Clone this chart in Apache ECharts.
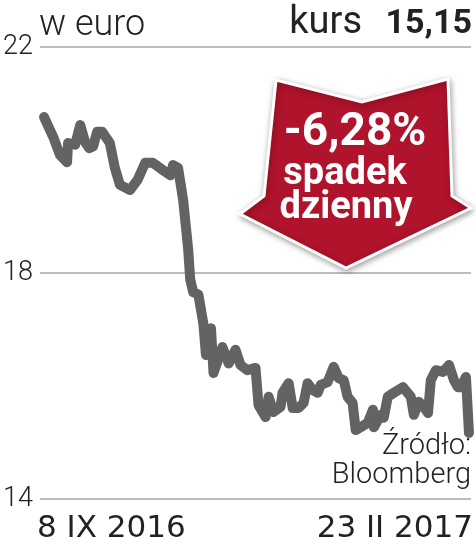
<!DOCTYPE html>
<html><head><meta charset="utf-8">
<script src="https://cdn.jsdelivr.net/npm/echarts@6/dist/echarts.min.js"></script>
<style>html,body{margin:0;padding:0;background:#fff}#c{width:476px;height:550px}</style>
</head><body><div id="c"></div>
<script>
// trading-day offsets (calendar days from 8 IX 2016) and close prices in EUR
const days = [0,3.6,6.3,9.1,9.5,12.3,14.3,16.2,17.8,19.4,21,23,26,28,30,34,37,40,43,47,50,51,53,55,57,57.8,59,61,63,64,66,67,70.5,73,75.7,77.7,80.4,83.6,84.8,87.6,88.8,90.7,93.5,94.3,96.7,98.3,100.6,102.6,104.2,106.2,108.2,109.4,112.1,114.5,116.5,118.5,120,122,123.2,125.2,128,130,130.4,133.1,134.3,135.9,138.3,141.9,145,146.2,148.2,150.2,151.8,152.9,154.9,157.7,160.1,162.1,163.6,164.8,166.8,168];
const prices = [20.76,20.41,20.09,19.96,20.30,20.27,20.62,20.32,20.21,20.24,20.50,20.50,20.30,19.86,19.56,19.47,19.65,19.95,19.95,19.82,19.73,19.91,19.86,19.29,18.41,17.88,17.66,17.62,17.10,16.55,17.02,16.23,16.69,16.40,16.64,16.37,16.28,16.32,15.66,15.45,15.81,15.54,15.63,15.88,16.05,15.61,15.61,15.70,16.05,15.93,15.88,16.02,16.07,16.34,16.14,16.10,15.81,15.70,15.22,15.27,15.35,15.58,15.27,15.49,15.44,15.81,15.88,15.98,15.81,15.49,15.72,15.63,15.52,16.10,16.28,16.25,16.37,16.10,15.98,15.98,16.16,15.17];
const yTicks = [14, 18, 22];
const dateLabels = ['8 IX 2016', '23 II 2017'];
const unitLabel = 'w euro';
const kursLabel = 'kurs';
const kursValue = '15,15';
const changeLabel = ['-6,28%', 'spadek', 'dzienny'];
const sourceLabel = ['Źródło:', 'Bloomberg'];

const data = days.map((d, i) => [d, prices[i]]);
const chart = echarts.init(document.getElementById('c'), null, {renderer: 'canvas'});
const F = 'Roboto, "Noto Sans", sans-serif';
const D = '"DejaVu Sans", sans-serif';
chart.setOption({
  animation: false,
  grid: {left: 40, right: 5, top: 47, bottom: 51},
  xAxis: {type: 'value', min: -1.6, max: 168.8, show: false},
  yAxis: {
    type: 'value', min: yTicks[0], max: yTicks[yTicks.length - 1], interval: 4,
    axisLine: {show: false}, axisTick: {show: false},
    splitLine: {lineStyle: {color: '#bdbdbd', width: 2}},
    axisLabel: {color: '#222', fontFamily: F, fontWeight: 300, fontSize: 27, align: 'left', margin: 37}
  },
  series: [{
    type: 'line', data: data, symbol: 'none', z: 3,
    lineStyle: {color: '#636363', width: 10, cap: 'round', join: 'round'}
  }],
  graphic: [
    {type: 'text', x: 39, y: 26, style: {text: unitLabel, fontFamily: F, fontWeight: 300, fontSize: 36, fill: '#222', verticalAlign: 'middle'}},
    {type: 'text', x: 362, y: 23, style: {text: kursLabel, fontFamily: F, fontSize: 38, fill: '#222', align: 'right', verticalAlign: 'middle'}},
    {type: 'text', x: 472, y: 24, style: {text: kursValue, fontFamily: F, fontSize: 34, fontWeight: 700, fill: '#222', align: 'right', verticalAlign: 'middle'}},
    {type: 'polygon', z: 10,
      shape: {points: [[276, 80], [362, 102], [448, 79], [452, 196], [471, 208], [346, 268], [240, 214], [264, 196]]},
      style: {fill: '#b0132c', stroke: '#fff', lineWidth: 3, shadowBlur: 6, shadowColor: 'rgba(0,0,0,0.35)', shadowOffsetX: 1, shadowOffsetY: 2}},
    {type: 'text', z: 11, x: 355, y: 133, style: {text: changeLabel[0], fontFamily: F, fontWeight: 700, fontSize: 46, fill: '#fff', align: 'center', verticalAlign: 'middle'}},
    {type: 'text', z: 11, x: 345, y: 174, style: {text: changeLabel[1], fontFamily: F, fontWeight: 700, fontSize: 38, fill: '#fff', align: 'center', verticalAlign: 'middle'}},
    {type: 'text', z: 11, x: 346, y: 208, style: {text: changeLabel[2], fontFamily: F, fontWeight: 700, fontSize: 38, fill: '#fff', align: 'center', verticalAlign: 'middle'}},
    {type: 'text', z: 5, x: 471, y: 461, style: {text: sourceLabel[0] + '\n' + sourceLabel[1], fontFamily: F, fontWeight: 300, fontSize: 29, lineHeight: 29, fill: '#222', align: 'right', verticalAlign: 'middle'}},
    {type: 'text', x: 37, y: 529, style: {text: dateLabels[0], fontFamily: D, fontSize: 31, fill: '#222', verticalAlign: 'middle'}},
    {type: 'text', x: 473, y: 529, style: {text: dateLabels[1], fontFamily: D, fontSize: 31, fill: '#222', align: 'right', verticalAlign: 'middle'}}
  ]
});
</script></body></html>
